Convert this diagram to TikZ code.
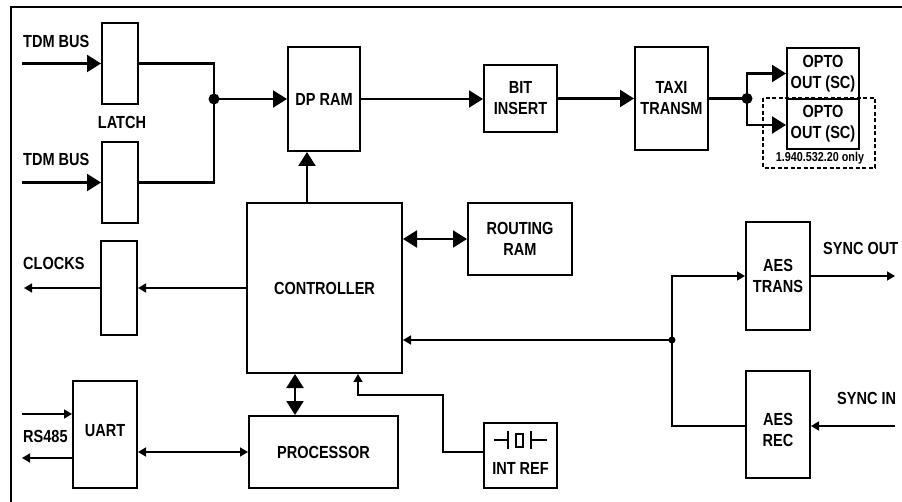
\documentclass[tikz,border=0pt]{standalone}
\usepackage{fontspec}
\setmainfont{Liberation Sans}[FakeStretch=0.83]
\usetikzlibrary{arrows.meta}
\newcommand\lblfont{\bfseries\fontsize{17.5}{21}\selectfont}
\newcommand\smallfont{\bfseries\fontsize{13}{14}\selectfont}
\begin{document}
\begin{tikzpicture}[x=1pt,y=-1pt,
  box/.style={draw, line width=2pt, inner sep=0pt, align=center, font=\lblfont},
  lab/.style={inner sep=0pt, align=center, font=\lblfont},
  conn/.style={line width=2.2pt},
  thin/.style={line width=1.5pt},
  bigarrow/.style={conn, -{Triangle[length=14pt,width=17pt]}},
  bigdbl/.style={conn, {Triangle[length=14pt,width=17pt]}-{Triangle[length=14pt,width=17pt]}},
  smallarrow/.style={thin, -{Triangle[length=8pt,width=9pt]}},
  smalldbl/.style={thin, {Triangle[length=8pt,width=9pt]}-{Triangle[length=8pt,width=9pt]}},
  dotnode/.style={circle, fill, inner sep=0pt}
]
\useasboundingbox (0,0) rectangle (902,502);
% frame (top and left edges)
\draw[line width=2pt] (11,502) -- (11,7) -- (902,7);

% boxes
\node[box, minimum width=36pt, minimum height=81pt] (latch1) at (120,63.5) {};
\node[box, minimum width=36pt, minimum height=81pt] (latch2) at (120,182.5) {};
\node[box, minimum width=72pt, minimum height=104pt] (dpram) at (324,99) {DP RAM};
\node[box, minimum width=73pt, minimum height=67pt] (bitins) at (520.5,98.5) {BIT\\INSERT};
\node[box, minimum width=73pt, minimum height=103pt] (taxi) at (671.5,98.5) {TAXI\\TRANSM};
\node[box, minimum width=72pt, minimum height=51pt] (opto1) at (823,73.5) {OPTO\\OUT (SC)};
\node[box, minimum width=72pt, minimum height=50pt] (opto2) at (823,124) {OPTO\\OUT (SC)};
\draw[line width=1.6pt, dashed, dash pattern=on 4pt off 2.5pt] (763,98) rectangle (875,168);
\node[lab, font=\smallfont] (only) at (820,158) {1.940.532.20 only};
\node[box, minimum width=155pt, minimum height=170pt] (ctrl) at (324.5,288) {CONTROLLER};
\node[box, minimum width=36pt, minimum height=94pt] (clk) at (119,288) {};
\node[box, minimum width=104pt, minimum height=72pt] (routing) at (520,239) {ROUTING\\RAM};
\node[box, minimum width=64pt, minimum height=108pt] (aestr) at (778,276) {AES\\TRANS};
\node[box, minimum width=64pt, minimum height=107pt] (aesrec) at (778,424.5) {};
\node[lab] (aesrectext) at (778,430) {AES\\REC};
\node[box, minimum width=73pt, minimum height=65pt] (intref) at (520.5,455.5) {};
\node[lab] (intreftext) at (520.5,468) {INT REF};
\node[box, minimum width=149pt, minimum height=72pt] (proc) at (323.5,452) {PROCESSOR};
\node[box, minimum width=64pt, minimum height=107pt] (uart) at (105,434.5) {};
\node[lab] (uarttext) at (105,431) {UART};

% crystal symbol
\draw[line width=1.6pt] (494,440) -- (508,440) (508,431) -- (508,449)
  (531,431) -- (531,449) (531,440) -- (547,440);
\draw[line width=1.4pt] (516,434) rectangle (523,447);

% labels
\node[lab, anchor=west] (tdm1) at (23,41) {TDM BUS};
\node[lab, anchor=west] (tdm2) at (23,159) {TDM BUS};
\node[lab] (latchlab) at (122,122) {LATCH};
\node[lab, anchor=west] (clocks) at (23,263) {CLOCKS};
\node[lab, anchor=west] (rs485) at (23,436) {RS485};
\node[lab, anchor=west] (syncout) at (823,248) {SYNC OUT};
\node[lab, anchor=west] (syncin) at (837,398) {SYNC IN};

% coordinates
\coordinate (in1) at (22,63.5);
\coordinate (in2) at (22,182.5);
\node[dotnode, minimum size=11pt] (j1) at (214,99) {};
\node[dotnode, minimum size=11pt] (j3) at (747,98.5) {};
\node[dotnode, minimum size=7pt] (j2) at (672,340) {};
\coordinate (c1) at (307,0);
\coordinate (c2) at (295,0);
\coordinate (clkout) at (24,288);
\coordinate (rin) at (22,414);
\coordinate (rout) at (22,458);
\coordinate (so) at (895,276);
\coordinate (si) at (895,426);
\coordinate (ir) at (484,452);
\coordinate (irk1) at (443,452);
\coordinate (irk2) at (443,395);
\coordinate (irk3) at (358,395);

% connectors
\draw[bigarrow] (in1) -- (latch1.west);
\draw[bigarrow] (in2) -- (latch2.west);
\draw[conn] (latch1.east) -- (latch1.east -| j1.center) -- (j1.center |- latch2.east) -- (latch2.east);
\draw[bigarrow] (j1.center) -- (dpram.west);
\draw[bigarrow] (dpram.east) -- (bitins.west |- dpram.east);
\draw[bigarrow] (bitins.east) -- (taxi.west |- bitins.east);
\draw[conn] (taxi.east) -- (j3.center);
\draw[bigarrow] (j3.center) -- (j3.center |- opto1.west) -- (opto1.west);
\draw[bigarrow] (j3.center) -- (j3.center |- 0,125) -- (opto2.west |- 0,125);
\draw[bigarrow] (c1 |- ctrl.north) -- (c1 |- dpram.south);
\draw[bigdbl] (ctrl.east |- routing.west) -- (routing.west);
\draw[bigdbl] (c2 |- ctrl.south) -- (c2 |- proc.north);
\draw[smallarrow] (ctrl.west) -- (clk.east);
\draw[smallarrow] (clk.west) -- (clkout);
\draw[smalldbl] (uart.east |- proc.west) -- (proc.west);
\draw[smallarrow] (rin) -- (rin -| uart.west);
\draw[smallarrow] (uart.west |- rout) -- (rout);
\draw[smallarrow] (ir) -- (irk1) -- (irk2) -- (irk3) -- (irk3 |- ctrl.south);
\draw[smallarrow] (j2.center) -- (j2.center -| ctrl.east);
\draw[smallarrow] (j2.center) -- (j2.center |- aestr.west) -- (aestr.west);
\draw[thin] (j2.center) -- (j2.center |- si) -- (aesrec.west |- si);
\draw[smallarrow] (aestr.east) -- (so);
\draw[smallarrow] (si) -- (aesrec.east |- si);
\end{tikzpicture}
\end{document}
